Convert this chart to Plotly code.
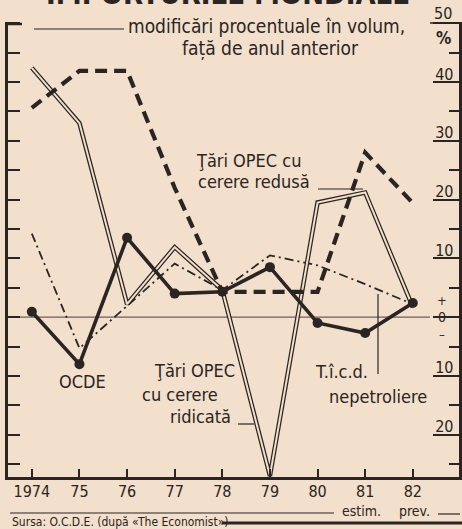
import plotly.graph_objects as go

# ---- data ----
years = ["1974", "75", "76", "77", "78", "79", "80", "81", "82"]
ocde = [0.9, -8.0, 13.5, 4.0, 4.3, 8.5, -1.0, -2.7, 2.4]
opec_dashed = [35.6, 41.9, 41.9, 22.0, 4.3, 4.3, 4.3, 28.0, 19.4]
opec_double = [42.4, 33.0, 2.2, 11.9, 4.6, -27.0, 19.5, 21.2, 1.7]
ticd = [14.2, -5.3, 1.9, 9.1, 4.6, 10.5, 8.8, 5.6, 2.2]
ytick_vals = [-20, -10, 0, 10, 20, 30, 40, 50]
ytick_text = ["20", "10", "", "10", "20", "30", "40", ""]
ytick_minor = [-25, -15, -5, 5, 15, 25, 35, 45]

xs = list(range(len(years)))

BG = "#f2dfcc"
INK = "#2a2522"
FONT = "DejaVu Sans Condensed, Liberation Sans Narrow, Arial Narrow, sans-serif"

W, H = 462, 529
ML, MR, MT, MB = 8, 3, 22, 52
PW, PH = W - ML - MR, H - MT - MB


def px(x):
    return (x - ML) / PW


def py(y):
    return (H - MB - y) / PH


fig = go.Figure()

# dash-dot: T.î.c.d. nepetroliere
fig.add_trace(go.Scatter(x=xs, y=ticd, mode="lines", name="T.î.c.d. nepetroliere",
                         line=dict(color=INK, width=1.8, dash="9px,4px,2px,4px")))
# double line: OPEC cu cerere ridicată
fig.add_trace(go.Scatter(x=xs, y=opec_double, mode="lines", name="Ţări OPEC cu cerere ridicată",
                         line=dict(color=INK, width=4.5)))
fig.add_trace(go.Scatter(x=xs, y=opec_double, mode="lines", showlegend=False, hoverinfo="skip",
                         line=dict(color=BG, width=2)))
# dashed: OPEC cu cerere redusă
fig.add_trace(go.Scatter(x=xs, y=opec_dashed, mode="lines", name="Ţări OPEC cu cerere redusă",
                         line=dict(color=INK, width=4.2, dash="12px,7px")))
# OCDE
fig.add_trace(go.Scatter(x=xs, y=ocde, mode="lines+markers", name="OCDE",
                         line=dict(color=INK, width=3.6),
                         marker=dict(color=INK, size=10)))
# carrier for right axis
fig.add_trace(go.Scatter(x=[0], y=[0], yaxis="y2", mode="markers", showlegend=False,
                         hoverinfo="skip", marker=dict(opacity=0)))

yr = [-27.2, 50.2]

fig.update_layout(
    width=W, height=H, autosize=False,
    margin=dict(l=ML, r=MR, t=MT, b=MB, pad=0),
    paper_bgcolor=BG, plot_bgcolor=BG,
    showlegend=False,
    font=dict(family=FONT, color=INK, size=16),
    xaxis=dict(range=[-0.5, 8.97], tickvals=xs, ticktext=years, ticks="inside",
               ticklen=8, tickwidth=2, tickcolor=INK, showline=True, linewidth=2.5,
               linecolor=INK, showgrid=False, zeroline=False, ticklabelstandoff=-2,
               tickfont=dict(size=16, family=FONT, color=INK)),
    yaxis=dict(range=yr, dtick=5, tick0=0, ticks="inside", ticklen=12, tickwidth=2,
               tickcolor=INK, showticklabels=False, showline=True, linewidth=2.5,
               linecolor=INK, showgrid=False, zeroline=False),
    yaxis2=dict(range=yr, overlaying="y", side="right", tickvals=ytick_vals,
                ticktext=ytick_text, ticks="inside", ticklen=26, tickwidth=1.5,
                tickcolor=INK, ticklabelposition="inside", ticklabelshift=-8,
                ticklabelstandoff=-20,
                showline=True, linewidth=2.5, linecolor=INK, showgrid=False,
                zeroline=False,
                minor=dict(tickvals=ytick_minor, ticks="inside", ticklen=10,
                           tickwidth=1.5, tickcolor=INK),
                tickfont=dict(size=16, family=FONT, color=INK)),
)

ann = []


def text(t, x, y, size=17, xanchor="center", bold=False):
    ann.append(dict(text=(f"<b>{t}</b>" if bold else t), x=px(x), y=py(y),
                    xref="paper", yref="paper", xanchor=xanchor, yanchor="middle",
                    showarrow=False, font=dict(size=size, family=FONT, color=INK)))


text("IMPORTURILE MONDIALE", 228, -6, size=29, bold=True)
text("modificări procentuale în volum,", 126, 26, size=19, xanchor="left")
text("față de anul anterior", 270, 48, size=19)
text("50", 443, 13, size=16)
text("%", 443, 38, size=17, bold=True)
text("+", 442, 300, size=13)
text("0", 442, 317, size=14)
text("–", 442, 334, size=13)
text("Ţări OPEC cu", 194, 160, size=18, xanchor="left")
text("cerere redusă", 196, 181, size=18, xanchor="left")
text("OCDE", 82, 381, size=18)
text("Ţări OPEC", 194, 370, size=18)
text("cu cerere", 180, 394, size=18)
text("ridicată", 200, 416, size=18)
text("T.î.c.d.", 341, 372, size=18)
text("nepetroliere", 378, 396, size=18)
text("estim.", 361, 511, size=14)
text("prev.", 414, 511, size=14)
text("Sursa: O.C.D.E. (după «The Economist»)", 10, 522, size=12, xanchor="left")

shapes = []


def seg(x0, y0, x1, y1, w=1.2):
    shapes.append(dict(type="line", xref="paper", yref="paper", x0=px(x0), y0=py(y0),
                       x1=px(x1), y1=py(y1), line=dict(color=INK, width=w)))


seg(34, 29, 124, 29)          # leader before subtitle
seg(8, 24, 22, 24, 2.5)        # top-left bracket
seg(430, 23, 459, 23, 1.5)     # line under 50
seg(318, 189, 363, 189)        # leader "redusă"
seg(238, 424, 254, 424)        # leader "ridicată"
seg(378, 294, 378, 374)        # leader T.î.c.d.
seg(10, 513, 334, 513)         # bottom line
seg(438, 514, 460, 514)
seg(222, 523, 462, 523, 3)     # source line

# zero line, placed on the value axis
shapes.append(dict(type="line", xref="paper", yref="y", x0=0, x1=px(430), y0=0, y1=0,
                   line=dict(color="#6e5e55", width=1.2), layer="below"))
shapes.append(dict(type="line", xref="paper", yref="y", x0=px(450), x1=px(457), y0=0, y1=0,
                   line=dict(color="#6e5e55", width=1.2), layer="below"))

fig.update_layout(annotations=ann, shapes=shapes)

fig.write_html("out.html", config={"displayModeBar": False},
               post_script="document.body.style.margin='0';document.body.style.padding='0';")
